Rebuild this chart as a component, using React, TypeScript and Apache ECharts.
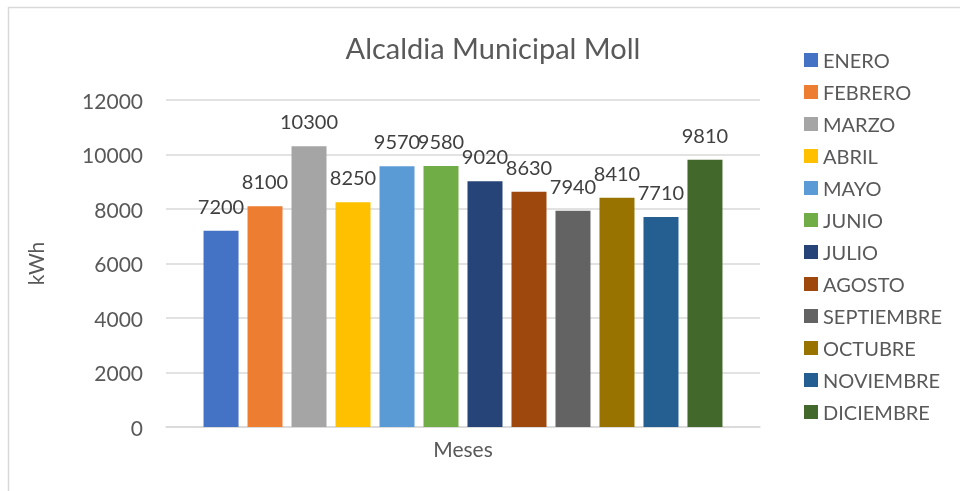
import React, { useEffect, useRef } from "react";
import * as echarts from "echarts";

const months = ["ENERO", "FEBRERO", "MARZO", "ABRIL", "MAYO", "JUNIO", "JULIO", "AGOSTO", "SEPTIEMBRE", "OCTUBRE", "NOVIEMBRE", "DICIEMBRE"];
const values = [7200, 8100, 10300, 8250, 9570, 9580, 9020, 8630, 7940, 8410, 7710, 9810];
const colors = ["#4472C4", "#ED7D31", "#A5A5A5", "#FFC000", "#5B9BD5", "#70AD47", "#264478", "#9E480E", "#636363", "#997300", "#255E91", "#43682B"];
const categories = [""];
const yTicks = { min: 0, max: 12000, interval: 2000 };

const FONT = "Lato, 'Open Sans', sans-serif";

export default function App() {
  const ref = useRef<HTMLDivElement>(null);
  useEffect(() => {
    if (!ref.current) return;
    const chart = echarts.init(ref.current, null, { renderer: "svg" });
    chart.setOption({
      animation: false,
      textStyle: { fontFamily: FONT },
      graphic: [
        {
          type: "rect",
          shape: { x: 8.5, y: 7.5, width: 960, height: 500 },
          style: { fill: "none", stroke: "#d9d9d9", lineWidth: 1.5 },
          silent: true,
        },
      ],
      title: {
        text: "Alcaldia Municipal Moll",
        left: 488,
        textAlign: "center",
        top: 28,
        textStyle: { fontFamily: FONT, fontSize: 29, fontWeight: "normal", color: "#595959" },
      },
      legend: {
        orient: "vertical",
        left: 804,
        top: 50,
        padding: 0,
        itemWidth: 14,
        itemHeight: 14,
        itemGap: 12,
        icon: "rect",
        textStyle: { fontFamily: FONT, fontSize: 20, color: "#595959", lineHeight: 20 },
        data: months,
      },
      grid: { left: 166, right: 200, top: 100, bottom: 64 },
      xAxis: {
        type: "category",
        data: categories,
        name: "Meses",
        nameLocation: "middle",
        nameGap: 11,
        nameTextStyle: { fontFamily: FONT, fontSize: 21, color: "#595959" },
        axisLine: { show: true, lineStyle: { color: "#d9d9d9", width: 1.5 } },
        axisTick: { show: false },
        axisLabel: { show: false },
      },
      yAxis: {
        type: "value",
        min: yTicks.min,
        max: yTicks.max,
        interval: yTicks.interval,
        name: "kWh",
        nameLocation: "middle",
        nameGap: 120,
        nameRotate: 90,
        nameTextStyle: { fontFamily: FONT, fontSize: 21, color: "#595959" },
        axisLine: { show: false },
        axisTick: { show: false },
        axisLabel: {
          fontFamily: FONT,
          fontSize: 21,
          color: "#595959",
          margin: 23,
          formatter: (v: number) => String(v),
        },
        splitLine: { lineStyle: { color: "#d9d9d9", width: 1.5 } },
      },
      series: months.map((m, i) => ({
        name: m,
        type: "bar",
        data: [values[i]],
        barWidth: 35,
        barGap: "25.7%",
        itemStyle: { color: colors[i] },
        label: {
          show: true,
          position: "top",
          distance: 15,
          fontFamily: FONT,
          fontSize: 20,
          color: "#404040",
        },
      })),
    });
    return () => chart.dispose();
  }, []);
  return (
    <div
      ref={ref}
      style={{ position: "fixed", left: 0, top: 0, width: 960, height: 491 }}
    />
  );
}
